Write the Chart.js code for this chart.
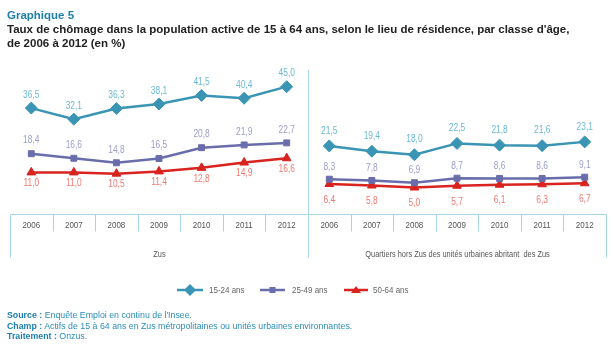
<!DOCTYPE html>
<html lang="fr">
<head>
<meta charset="utf-8">
<script src="https://cdn.jsdelivr.net/npm/chart.js@4/dist/chart.umd.min.js"></script>
<style>
  body { margin: 0; background: #fff; }
  #wrap { position: relative; width: 613px; height: 353px; overflow: hidden; font-family: 'Liberation Sans', Arial, sans-serif; }
  #wrap canvas { position: absolute; left: 0; top: 0; }
  .title { position: absolute; left: 7px; top: 8px; font-weight: bold; font-size: 11.5px; line-height: 14px; color: #222; white-space: nowrap; }
  .title .num { color: #1c7fae; }
  .notes { position: absolute; left: 7px; top: 310px; font-size: 8.8px; line-height: 10.5px; color: #2a8cb8; white-space: nowrap; }
  .notes b { color: #1c7fae; }
</style>
</head>
<body>
<div id="wrap">
  <canvas id="chart" width="613" height="353"></canvas>
  <div class="title">
    <span class="num">Graphique 5</span><br>
    Taux de chômage dans la population active de 15 à 64 ans, selon le lieu de résidence, par classe d'âge,<br>
    de 2006 à 2012 (en %)
  </div>
  <div class="notes">
    <b>Source :</b> Enquête Emploi en continu de l'Insee.<br>
    <b>Champ :</b> Actifs de 15 à 64 ans en Zus métropolitaines ou unités urbaines environnantes.<br>
    <b>Traitement :</b> Onzus.
  </div>
</div>
<script>
// données
const years = ['2006', '2007', '2008', '2009', '2010', '2011', '2012'];
const zones = ['Zus', 'Quartiers hors Zus des unités urbaines abritant  des Zus'];
const seriesNames = ['15-24 ans', '25-49 ans', '50-64 ans'];

const zus1524 = [36.5, 32.1, 36.3, 38.1, 41.5, 40.4, 45.0];
const zus2549 = [18.4, 16.6, 14.8, 16.5, 20.8, 21.9, 22.7];
const zus5064 = [11.0, 11.0, 10.5, 11.4, 12.8, 14.9, 16.6];

const hors1524 = [21.5, 19.4, 18.0, 22.5, 21.8, 21.6, 23.1];
const hors2549 = [8.3, 7.8, 6.9, 8.7, 8.6, 8.6, 9.1];
const hors5064 = [6.4, 5.8, 5.0, 5.7, 6.1, 6.3, 6.7];

const fontFamily = "'Liberation Sans', Arial, sans-serif";
const lineBlue = '#3a95b5';
const linePurple = '#6a6dac';
const lineRed = '#d8231f';

// no line between the two panels
function gapSegment(color) {
    return {
        borderColor: ctx => ctx.p0DataIndex === years.length - 1 ? 'rgba(0,0,0,0)' : color
    };
}

function makeDataset(i, left, right, color, style, radius, labelColor, offsets) {
    return {
        label: seriesNames[i],
        data: left.concat(right),
        borderColor: color,
        backgroundColor: color,
        borderWidth: 2.5,
        pointStyle: style,
        pointRadius: radius,
        pointBorderWidth: 1,
        segment: gapSegment(color),
        labelColor: labelColor,
        labelOffsets: offsets
    };
}

// the source uses a condensed face, so squeeze the text a bit
function narrowText(ctx, text, x, y) {
    ctx.save();
    ctx.translate(x, y);
    ctx.scale(0.84, 1);
    ctx.fillText(text, 0, 0);
    ctx.restore();
}

const valueLabels = {
    id: 'valueLabels',
    afterDatasetsDraw(chart) {
        const ctx = chart.ctx;
        ctx.save();
        ctx.font = '10px ' + fontFamily;
        ctx.textAlign = 'center';
        ctx.textBaseline = 'middle';
        chart.data.datasets.forEach((ds, i) => {
            const meta = chart.getDatasetMeta(i);
            ctx.fillStyle = ds.labelColor;
            meta.data.forEach((pt, j) => {
                const off = j < years.length ? ds.labelOffsets[0] : ds.labelOffsets[1];
                narrowText(ctx, ds.data[j].toFixed(1).replace('.', ','), pt.x, pt.y + off);
            });
        });
        ctx.restore();
    }
};

function drawMarker(ctx, style, x, y) {
    ctx.beginPath();
    if (style === 'rectRot') {
        ctx.moveTo(x, y - 6); ctx.lineTo(x + 6, y); ctx.lineTo(x, y + 6); ctx.lineTo(x - 6, y);
    } else if (style === 'rect') {
        ctx.rect(x - 3, y - 3, 6, 6);
    } else {
        ctx.moveTo(x, y - 4); ctx.lineTo(x + 5, y + 3); ctx.lineTo(x - 5, y + 3);
    }
    ctx.closePath();
    ctx.fill();
}

const xTable = {
    id: 'xTable',
    afterDraw(chart) {
        const ctx = chart.ctx;
        const area = chart.chartArea;
        const x = chart.scales.x;
        const top = Math.round(area.bottom) + 0.5;
        const left = Math.round(area.left) + 0.5;
        const right = Math.round(area.right) + 0.5;
        const n = years.length;
        const mid = Math.round((x.getPixelForValue(n - 1) + x.getPixelForValue(n)) / 2) + 0.5;

        ctx.save();
        ctx.strokeStyle = '#a9d4e5';
        ctx.lineWidth = 1;
        ctx.beginPath();
        ctx.moveTo(left, top); ctx.lineTo(right, top);
        ctx.moveTo(left, top); ctx.lineTo(left, top + 43);
        ctx.moveTo(right, top); ctx.lineTo(right, top + 43);
        ctx.moveTo(mid, 70); ctx.lineTo(mid, top + 43);
        for (let i = 1; i < n * 2; i++) {
            if (i === n) continue;
            const xi = Math.round((x.getPixelForValue(i - 1) + x.getPixelForValue(i)) / 2) + 0.5;
            ctx.moveTo(xi, top); ctx.lineTo(xi, top + 17);
        }
        ctx.stroke();

        // year labels, one per category of the x scale
        ctx.fillStyle = '#555';
        ctx.font = '9.5px ' + fontFamily;
        ctx.textAlign = 'center';
        ctx.textBaseline = 'middle';
        x.getLabels().forEach((lab, i) => {
            narrowText(ctx, lab, x.getPixelForValue(i), top + 11);
        });

        // zone names under the years
        ctx.font = '8.8px ' + fontFamily;
        narrowText(ctx, zones[0], (left + mid) / 2, top + 40);
        narrowText(ctx, zones[1], (mid + right) / 2, top + 40);

        // legend
        const items = [[177, 203, 209], [260, 285, 292], [344, 368, 373]];
        const ly = 290;
        ctx.textAlign = 'left';
        ctx.font = '9.5px ' + fontFamily;
        chart.data.datasets.forEach((ds, i) => {
            const it = items[i];
            ctx.strokeStyle = ds.borderColor;
            ctx.fillStyle = ds.borderColor;
            ctx.lineWidth = 2.5;
            ctx.beginPath();
            ctx.moveTo(it[0], ly); ctx.lineTo(it[1], ly);
            ctx.stroke();
            drawMarker(ctx, ds.pointStyle, (it[0] + it[1]) / 2, ly);
            ctx.fillStyle = '#666';
            narrowText(ctx, ds.label, it[2], ly);
        });
        ctx.restore();
    }
};

new Chart(document.getElementById('chart'), {
    type: 'line',
    data: {
        labels: years.concat(years),
        datasets: [
            makeDataset(0, zus1524, hors1524, lineBlue, 'rectRot', 6, '#6bb9d5', [-13, -15]),
            makeDataset(1, zus2549, hors2549, linePurple, 'rect', 4.2, '#9c9dcb', [-13, -12]),
            makeDataset(2, zus5064, hors5064, lineRed, 'triangle', 5, '#f07a72', [11, 16])
        ]
    },
    options: {
        responsive: false,
        animation: false,
        events: [],
        layout: { padding: { left: 10, right: 7, top: 69, bottom: 0 } },
        plugins: {
            legend: { display: false },
            tooltip: { enabled: false }
        },
        scales: {
            x: {
                offset: true,
                grid: { display: false, drawTicks: false },
                border: { display: false },
                ticks: { display: false, autoSkip: false },
                afterFit: scale => { scale.height = 139; }
            },
            y: {
                display: false,
                min: -5.5,
                max: 52
            }
        }
    },
    plugins: [valueLabels, xTable]
});
</script>
</body>
</html>
